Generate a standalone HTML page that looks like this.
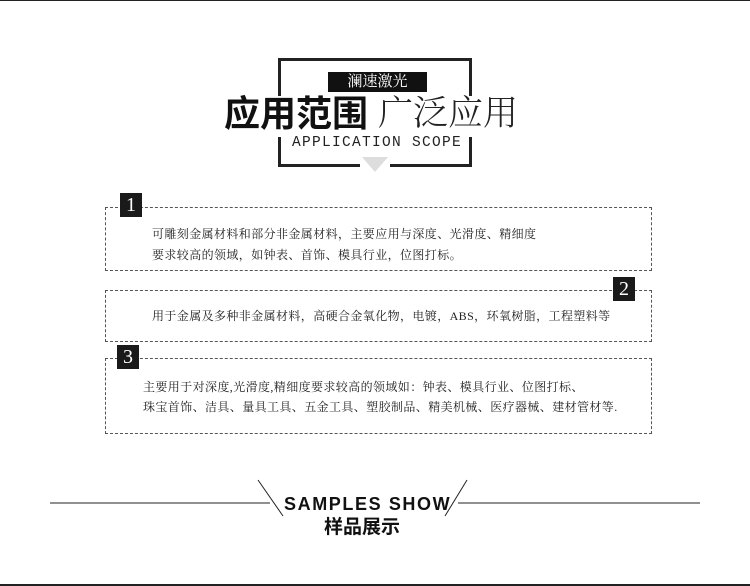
<!DOCTYPE html>
<html><head><meta charset="utf-8"><style>
body{margin:0;width:750px;height:586px;position:relative;background:#fff;overflow:hidden;font-family:"Liberation Serif","Noto Serif CJK SC",serif;color:#222}
div{position:absolute}
.t{white-space:nowrap}
.box{border:1px dashed #555}
.badge{background:#1a1a1a;color:#fff;width:22px;height:24px;font-size:20px;line-height:24px;text-align:center}
.p{font-size:12px;letter-spacing:0.4px;white-space:nowrap;font-family:"Liberation Serif","Noto Serif CJK SC",serif}
</style></head><body>
<div style="left:0;top:0;width:750px;height:1px;background:#222"></div>
<div style="left:0;top:584px;width:750px;height:2px;background:#222"></div>

<div style="left:278px;top:58px;width:194px;height:3px;background:#222"></div>
<div style="left:278px;top:58px;width:3px;height:38px;background:#222"></div>
<div style="left:469px;top:58px;width:3px;height:38px;background:#222"></div>
<div style="left:278px;top:137px;width:3px;height:30px;background:#222"></div>
<div style="left:469px;top:137px;width:3px;height:30px;background:#222"></div>
<div style="left:278px;top:164px;width:82px;height:3px;background:#222"></div>
<div style="left:390px;top:164px;width:82px;height:3px;background:#222"></div>
<svg style="position:absolute;left:360px;top:157px" width="30" height="16"><polygon points="2,0 28,0 15,15" fill="#ddd"/></svg>
<div style="left:328px;top:72px;width:99px;height:20px;background:#111;color:#fff;font-size:15px;line-height:20px;text-align:center;font-family:'Liberation Serif','Noto Serif CJK SC',serif">澜速激光</div>
<div class="t" style="left:224px;top:92px;font-size:36px;font-weight:bold;line-height:44px;font-family:'Liberation Sans','Noto Sans CJK SC',sans-serif;color:#111">应用范围</div>
<div class="t" style="left:378px;top:92px;font-size:35px;font-weight:300;line-height:44px;font-family:'Liberation Serif','Noto Serif CJK SC',serif;color:#222">广泛应用</div>
<div class="t" style="left:292px;top:134px;font-size:14.5px;letter-spacing:1.3px;line-height:18px;font-family:'Liberation Mono',monospace;color:#222">APPLICATION SCOPE</div>

<div class="box" style="left:105px;top:207px;width:545px;height:62px"></div>
<div class="badge" style="left:120px;top:193px">1</div>
<div class="p" style="left:152px;top:225px">可雕刻金属材料和部分非金属材料，主要应用与深度、光滑度、精细度</div>
<div class="p" style="left:152px;top:246px">要求较高的领域，如钟表、首饰、模具行业，位图打标。</div>

<div class="box" style="left:105px;top:290px;width:545px;height:50px"></div>
<div class="badge" style="left:613px;top:277px">2</div>
<div class="p" style="left:152px;top:307px">用于金属及多种非金属材料，高硬合金氧化物，电镀，ABS，环氧树脂，工程塑料等</div>

<div class="box" style="left:105px;top:358px;width:545px;height:74px"></div>
<div class="badge" style="left:117px;top:345px">3</div>
<div class="p" style="left:143px;top:378px">主要用于对深度,光滑度,精细度要求较高的领域如：钟表、模具行业、位图打标、</div>
<div class="p" style="left:143px;top:398px">珠宝首饰、洁具、量具工具、五金工具、塑胶制品、精美机械、医疗器械、建材管材等.</div>

<svg style="position:absolute;left:0;top:470px" width="750" height="60">
<line x1="50" y1="33" x2="270" y2="33" stroke="#222" stroke-width="1"/>
<line x1="458" y1="33" x2="700" y2="33" stroke="#222" stroke-width="1"/>
<line x1="258" y1="10" x2="283" y2="46" stroke="#222" stroke-width="1"/>
<line x1="467" y1="10" x2="445" y2="46" stroke="#222" stroke-width="1"/>
</svg>
<div class="t" style="left:284px;top:493px;font-size:18px;font-weight:bold;letter-spacing:1.6px;line-height:22px;font-family:'Liberation Sans',sans-serif;color:#111">SAMPLES SHOW</div>
<div class="t" style="left:324px;top:516px;font-size:19px;font-weight:bold;line-height:24px;font-family:'Liberation Sans','Noto Sans CJK SC',sans-serif;color:#111">样品展示</div>
</body></html>
